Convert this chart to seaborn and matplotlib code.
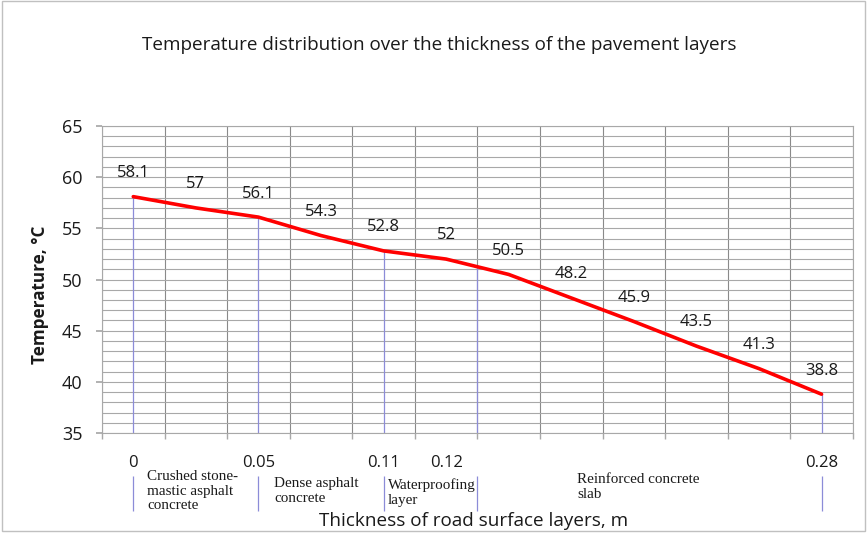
import numpy as np
import pandas as pd
import matplotlib.pyplot as plt
import matplotlib.transforms as mtransforms
from matplotlib.patches import Rectangle
import seaborn as sns

# Data
temperature = [58.1, 57, 56.1, 54.3, 52.8, 52, 50.5, 48.2, 45.9, 43.5, 41.3, 38.8]
tick_labels = ["0", "", "0.05", "", "0.11", "0.12", "", "", "", "", "", "0.28"]
layer_bounds = [0, 2, 4, 5.5, 11]
layer_names = ["Crushed stone-\nmastic asphalt\nconcrete",
               "Dense asphalt\nconcrete",
               "Waterproofing\nlayer",
               "Reinforced concrete\nslab"]
layer_text_x = [0.22, 2.25, 4.07, 7.09]
layer_text_y = [-0.12, -0.143, -0.147, -0.13]

df = pd.DataFrame({"pos": np.arange(len(temperature)), "temp": temperature})

sns.set_theme(style="white")
plt.rcParams["font.family"] = ["Open Sans", "DejaVu Sans"]

fig = plt.figure(figsize=(8.68, 5.34), dpi=100)
ax = fig.add_axes([0.1175, 0.189, 0.865, 0.575])

grid_col = "#a8a8a8"
text_col = "#1a1a1a"

# Blue drop lines from the curve down to the axis at layer boundaries
drop_top = np.interp(layer_bounds, df["pos"], df["temp"])
ax.vlines(layer_bounds, 35, drop_top, color="#8c8cd8", lw=0.9, zorder=2)

sns.lineplot(data=df, x="pos", y="temp", color="#ff0000", lw=2.6, ax=ax, zorder=3)

for x, y in zip(df["pos"], df["temp"]):
    ax.annotate(f"{y:g}", (x, y), xytext=(0, 17), textcoords="offset points",
                ha="center", va="center", fontsize=12, color=text_col)

ax.set_xlim(-0.5, 11.5)
ax.set_ylim(35, 65)
ax.set_xticks(df["pos"])
ax.set_xticklabels(tick_labels, fontsize=12)
ax.set_xticks(np.arange(-0.5, 12, 1), minor=True)
ax.set_yticks(np.arange(35, 66, 5))
ax.set_yticks(np.arange(35, 66, 1), minor=True)
ax.tick_params(axis="x", which="major", length=0, pad=16, colors=text_col)
ax.tick_params(axis="x", which="minor", length=4, color=grid_col, bottom=True)
ax.tick_params(axis="y", which="major", length=4, color=grid_col, left=True,
               pad=10, labelsize=13, colors=text_col)
ax.tick_params(axis="y", which="minor", length=0)

ax.grid(False)
ax.grid(axis="y", which="both", color=grid_col, lw=0.8, zorder=0)
ax.grid(axis="x", which="minor", color="#8a8a8a", lw=0.8, zorder=0)
for s in ax.spines.values():
    s.set_color(grid_col)
    s.set_linewidth(0.8)

ax.set_xlabel("")
ax.set_ylabel("Temperature, °C", fontsize=12.3, fontweight="bold", color=text_col)
ax.yaxis.set_label_coords(-0.07, 0.45)

fig.text(0.546, 0.025, "Thickness of road surface layers, m", ha="center",
         va="center", fontsize=13.6, color=text_col)
fig.text(0.506, 0.916, "Temperature distribution over the thickness of the pavement layers",
         ha="center", va="center", fontsize=13.6, color=text_col)

# Layer names under the axis, separated by short blue markers
trans = mtransforms.blended_transform_factory(ax.transData, ax.transAxes)
ax.vlines(layer_bounds, -0.255, -0.14, color="#8c8cd8", lw=0.9,
          transform=trans, clip_on=False)
for x, y, name in zip(layer_text_x, layer_text_y, layer_names):
    ax.text(x, y, name, transform=trans, ha="left", va="top",
            fontsize=10.9, family="Liberation Serif", linespacing=1.17,
            color=text_col)

fig.patches.append(Rectangle((0.002, 0.006), 0.995, 0.992, transform=fig.transFigure,
                             fill=False, edgecolor="#c0c0c0", lw=1))

fig.savefig("out.png", dpi=100)
